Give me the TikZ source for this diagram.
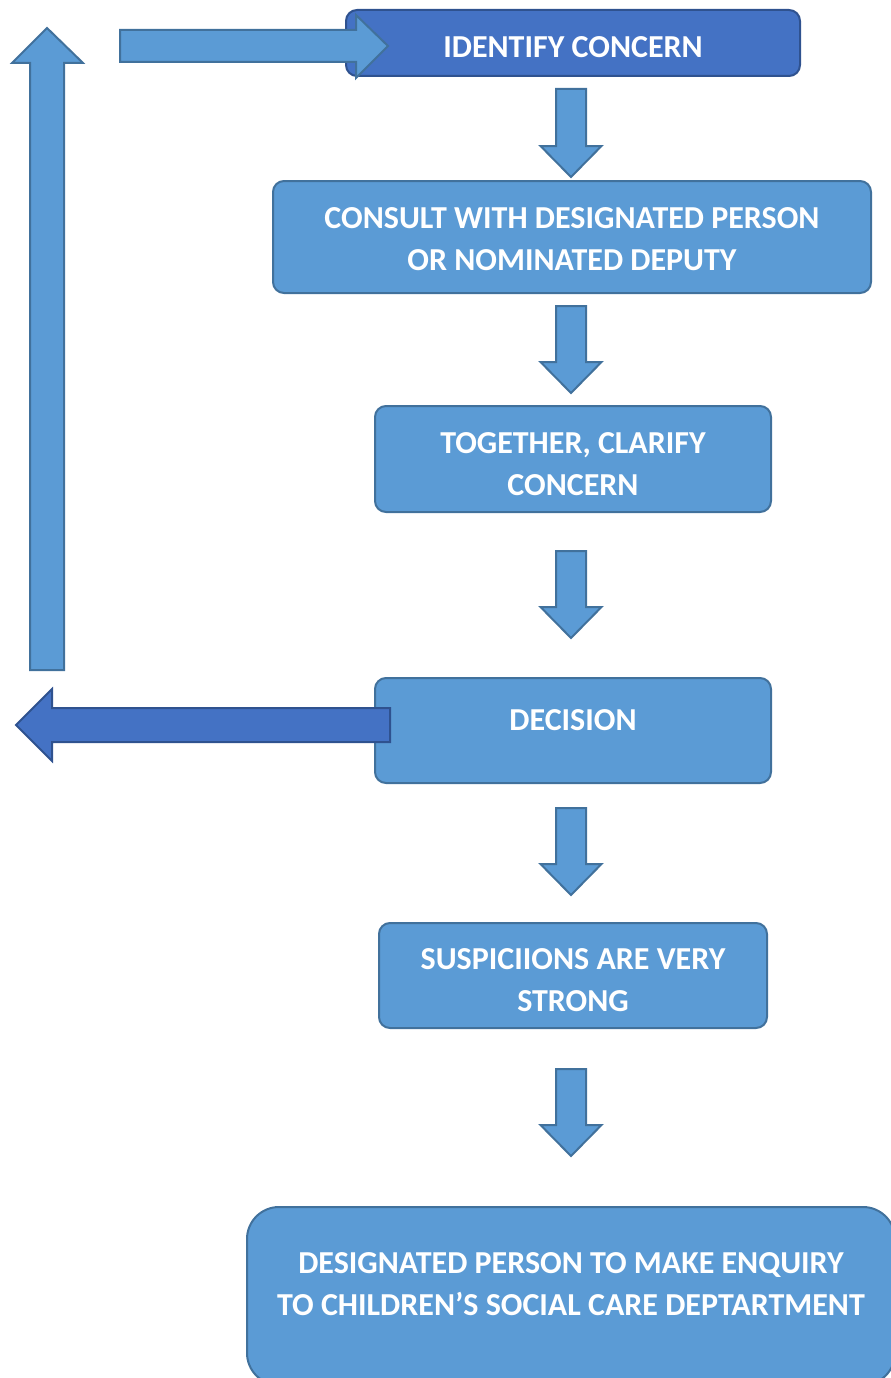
\documentclass[tikz,border=0pt]{standalone}
\usepackage{fontspec}
\setmainfont{Carlito}
\definecolor{lfill}{HTML}{5B9BD5}
\definecolor{lborder}{HTML}{41719C}
\definecolor{dfill}{HTML}{4472C4}
\definecolor{dborder}{HTML}{2F528F}
\begin{document}
\begin{tikzpicture}[x=1pt,y={(0pt,-1pt)},
  lightbox/.style={draw=lborder, fill=lfill, line width=2pt, rounded corners=11pt, inner sep=0pt},
  darkbox/.style={lightbox, draw=dborder, fill=dfill},
  boxtext/.style={text=white, font=\bfseries\fontsize{32}{42}\selectfont, align=center, inner sep=0pt},
  blockarrow/.style={draw=lborder, fill=lfill, line width=2pt, line join=miter},
  darkarrow/.style={draw=dborder, fill=dfill, line width=2pt, line join=miter},
  dnarrow/.pic={\draw[blockarrow] (-15,0) -- (15,0) -- (15,#1-31) -- (30.5,#1-31) -- (0,#1) -- (-30.5,#1-31) -- (-15,#1-31) -- cycle;}
]
\clip (0,0) rectangle (891,1378);
\useasboundingbox (0,0) rectangle (891,1378);

% boxes
\node[darkbox, minimum width=454pt, minimum height=66pt] (b1) at (573,43) {};
\node[boxtext] (b1t) at (573,47) {IDENTIFY CONCERN};
\node[lightbox, minimum width=598pt, minimum height=112pt] (b2) at (572,237) {};
\node[boxtext] (b2t) at (572,239.5) {CONSULT WITH DESIGNATED PERSON\\OR NOMINATED DEPUTY};
\node[lightbox, minimum width=396pt, minimum height=106pt] (b3) at (573,459) {};
\node[boxtext] (b3t) at (573,464) {TOGETHER, CLARIFY\\CONCERN};
\node[lightbox, minimum width=396pt, minimum height=105pt] (b4) at (573,730.5) {};
\node[boxtext] (b4t) at (573,720) {DECISION};
\node[lightbox, minimum width=388pt, minimum height=105pt] (b5) at (573,975.5) {};
\node[boxtext] (b5t) at (573,980.5) {SUSPICIIONS ARE VERY\\STRONG};
\node[lightbox, rounded corners=32pt, minimum width=648pt, minimum height=178pt] (b6) at (571,1296) {};
\node[boxtext] (b6t) at (571,1284) {DESIGNATED PERSON TO MAKE ENQUIRY\\TO CHILDREN’S SOCIAL CARE DEPTARTMENT};

% down arrows between boxes
\pic at (571,89) {dnarrow=88};
\pic at (571,306) {dnarrow=87};
\pic at (571,551) {dnarrow=87};
\pic at (571,808) {dnarrow=87};
\pic at (571,1069) {dnarrow=87};

% loop back: up arrow on the left
\draw[blockarrow] (30,670) -- (64,670) -- (64,63) -- (83,63) -- (47,28) -- (12,63) -- (30,63) -- cycle;
% right arrow into IDENTIFY CONCERN
\draw[blockarrow] (120,30) -- (356,30) -- (356,15) -- (388,46) -- (356,78) -- (356,62) -- (120,62) -- cycle;
% left arrow out of DECISION
\draw[darkarrow] (390,708) -- (52,708) -- (52,689) -- (16,725) -- (52,761) -- (52,742) -- (390,742) -- cycle;
\end{tikzpicture}
\end{document}
